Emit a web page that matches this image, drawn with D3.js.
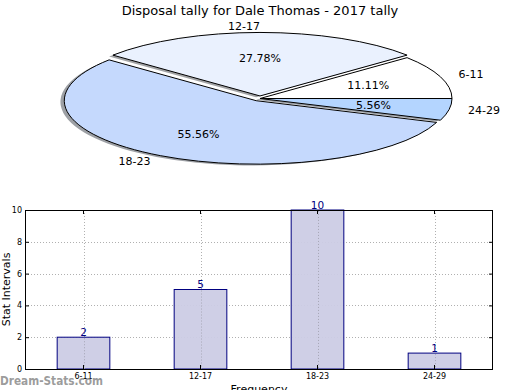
<!DOCTYPE html>
<html>
<head>
<meta charset="utf-8">
<script src="https://cdn.jsdelivr.net/npm/d3@7"></script>
<style>
  html, body { margin: 0; padding: 0; background: #fff; }
  svg { display: block; font-family: "DejaVu Sans", sans-serif; }
</style>
</head>
<body>
<svg id="chart" width="520" height="390"></svg>
<script>
// ---- data ----
const title = "Disposal tally for Dale Thomas - 2017 tally";
const categories = ["6-11", "12-17", "18-23", "24-29"];
const values = [2, 5, 10, 1];
const yTicks = [0, 2, 4, 6, 8, 10];
const xLabel = "Frequency";
const yLabel = "Stat Intervals";
const watermark = "Dream-Stats.com";

// ---- styles ----
const sliceColors = ["#ffffff", "#eaf1fe", "#c5d9fd", "#b4d5ff"];
const explode = [0, 0.04, 0.04, 0];

const svg = d3.select("#chart");

svg.append("text")
  .attr("x", 260).attr("y", 15)
  .attr("text-anchor", "middle")
  .attr("font-size", 13)
  .text(title);

// ---- pie ----
const cx = 260, cy = 98.5, rx = 192, ry = 63.5;
const total = d3.sum(values);
const pie = d3.pie().sort(null)
  .startAngle(Math.PI / 2)
  .endAngle(Math.PI / 2 - 2 * Math.PI)(values);
const arc = d3.arc().innerRadius(0).outerRadius(1);

const slices = pie.map((d, i) => {
  const m = (d.startAngle + d.endAngle) / 2;
  const ox = explode[i] * rx * Math.sin(m);
  const oy = -explode[i] * ry * Math.cos(m);
  return { d, i, m, ox, oy };
});

const pieG = svg.append("g");
slices.forEach(s => {
  const c = d3.color(sliceColors[s.i]);
  const sc = d3.rgb(c.r * 0.3, c.g * 0.3, c.b * 0.3);
  pieG.append("path")
    .attr("transform", `translate(${cx + s.ox - 0.02 * rx},${cy + s.oy + 0.02 * ry}) scale(${rx},${ry})`)
    .attr("d", arc(s.d))
    .attr("fill", sc)
    .attr("fill-opacity", 0.5);
});
slices.forEach(s => {
  pieG.append("path")
    .attr("transform", `translate(${cx + s.ox},${cy + s.oy}) scale(${rx},${ry})`)
    .attr("d", arc(s.d))
    .attr("fill", sliceColors[s.i])
    .attr("stroke", "#000")
    .attr("stroke-width", 1)
    .attr("vector-effect", "non-scaling-stroke");
});
slices.forEach(s => {
  const sx = Math.sin(s.m), sy = -Math.cos(s.m);
  pieG.append("text")
    .attr("x", cx + s.ox + 1.1 * rx * sx)
    .attr("y", cy + s.oy + 1.1 * ry * sy)
    .attr("dy", "0.35em")
    .attr("text-anchor", sx > 1e-6 ? "start" : "end")
    .attr("font-size", 11)
    .text(categories[s.i]);
  pieG.append("text")
    .attr("x", cx + s.ox + 0.6 * rx * sx)
    .attr("y", cy + s.oy + 0.6 * ry * sy)
    .attr("dy", "0.35em")
    .attr("text-anchor", "middle")
    .attr("font-size", 11)
    .text((values[s.i] / total * 100).toFixed(2) + "%");
});

// ---- bar chart ----
const L = 25, R = 493, T = 210, B = 369;
const x = d3.scaleBand().domain(categories).range([L, R]).padding(0);
const y = d3.scaleLinear().domain([0, 10]).range([B, T]);
const bw = x.bandwidth() * 0.45;
const xc = c => x(c) + x.bandwidth() / 2;

const grid = svg.append("g")
  .attr("stroke", "#b0b0b0").attr("stroke-width", 1)
  .attr("stroke-dasharray", "1,2");
yTicks.forEach(t => {
  grid.append("line").attr("x1", L).attr("x2", R)
    .attr("y1", Math.round(y(t)) + 0.5).attr("y2", Math.round(y(t)) + 0.5);
});
categories.forEach(c => {
  grid.append("line").attr("y1", T).attr("y2", B)
    .attr("x1", Math.round(xc(c)) + 0.5).attr("x2", Math.round(xc(c)) + 0.5);
});

svg.append("g").selectAll("rect").data(values).join("rect")
  .attr("x", (v, i) => xc(categories[i]) - bw / 2)
  .attr("y", v => y(v))
  .attr("width", bw)
  .attr("height", v => y(0) - y(v))
  .attr("fill", "#ccccE5")
  .attr("fill-opacity", 0.95)
  .attr("stroke", "#000080")
  .attr("stroke-width", 1);

const grid2 = svg.append("g")
  .attr("stroke", "#a8a8b8").attr("stroke-width", 1)
  .attr("stroke-dasharray", "1,2");
values.forEach((v, i) => {
  const c = categories[i];
  grid2.append("line").attr("y1", y(v) + 1).attr("y2", B)
    .attr("x1", Math.round(xc(c)) + 0.5).attr("x2", Math.round(xc(c)) + 0.5);
});

svg.append("g").selectAll("text").data(values).join("text")
  .attr("x", (v, i) => xc(categories[i]))
  .attr("y", v => y(v) - 1.5)
  .attr("text-anchor", "middle")
  .attr("font-size", 10.5)
  .attr("fill", "#000080")
  .text(v => v);

const yAxis = svg.append("g").attr("transform", `translate(${L},0)`)
  .call(d3.axisLeft(y).tickValues(yTicks).tickSizeInner(-4).tickSizeOuter(0).tickPadding(3));
const yAxisR = svg.append("g").attr("transform", `translate(${R},0)`)
  .call(d3.axisRight(y).tickValues(yTicks).tickSizeInner(-4).tickSizeOuter(0).tickFormat(""));
const xAxis = svg.append("g").attr("transform", `translate(0,${B})`)
  .call(d3.axisBottom(x).tickSizeInner(-4).tickSizeOuter(0).tickPadding(4));
const xAxisT = svg.append("g").attr("transform", `translate(0,${T})`)
  .call(d3.axisTop(x).tickSizeInner(-4).tickSizeOuter(0).tickFormat(""));
[yAxis, yAxisR, xAxis, xAxisT].forEach(g => {
  g.select(".domain").remove();
  g.selectAll(".tick line").attr("stroke", "#000");
  g.selectAll("text").attr("font-size", 8).attr("font-family", "DejaVu Sans, sans-serif");
});

svg.append("rect")
  .attr("x", L + 0.5).attr("y", T + 0.5)
  .attr("width", R - L - 1).attr("height", B - T)
  .attr("fill", "none").attr("stroke", "#000").attr("stroke-width", 1);

svg.append("text")
  .attr("transform", `translate(10,${(T + B) / 2}) rotate(-90)`)
  .attr("text-anchor", "middle")
  .attr("font-size", 11)
  .text(yLabel);

svg.append("text")
  .attr("x", (L + R) / 2).attr("y", 393)
  .attr("text-anchor", "middle")
  .attr("font-size", 11)
  .text(xLabel);

svg.append("text")
  .attr("x", 0).attr("y", 385)
  .attr("font-size", 12)
  .attr("font-weight", "600")
  .attr("fill", "#8a8a8a")
  .attr("fill-opacity", 0.85)
  .attr("textLength", 103)
  .attr("lengthAdjust", "spacingAndGlyphs")
  .text(watermark);
</script>
</body>
</html>
